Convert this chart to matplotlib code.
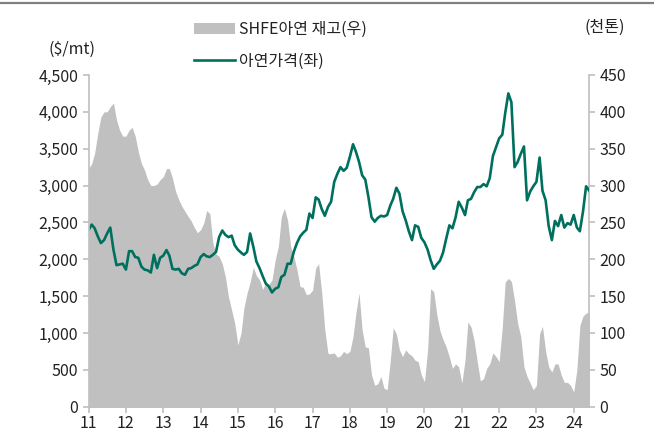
import numpy as np
import pandas as pd
import matplotlib
matplotlib.use("Agg")
import matplotlib.pyplot as plt
import matplotlib.dates as mdates
from matplotlib.ticker import FuncFormatter

plt.rcParams['font.family'] = ['Noto Sans CJK KR', 'DejaVu Sans']

# monthly, Jan 2011 -> Jun 2024
dates = pd.date_range("2011-01-01", periods=162, freq="MS")

# zinc price ($/mt, left axis)
price = [
    2400, 2470, 2420, 2310, 2220, 2260, 2350, 2430, 2130, 1920, 1930, 1940,
    1860, 2110, 2110, 2030, 2020, 1900, 1860, 1850, 1820, 2060, 1880, 2020,
    2050, 2125, 2050, 1870, 1860, 1870, 1810, 1790, 1870, 1880, 1910, 1930,
    2030, 2070, 2040, 2030, 2060, 2100, 2300, 2390, 2330, 2300, 2320, 2190,
    2130, 2090, 2060, 2100, 2350, 2170, 1970, 1880, 1770, 1670, 1630, 1550,
    1600, 1620, 1760, 1790, 1940, 1940, 2100, 2220, 2310, 2360, 2400, 2620,
    2560, 2840, 2810, 2680, 2590, 2710, 2780, 3050, 3160, 3250, 3200, 3240,
    3390, 3560, 3460, 3320, 3140, 3080, 2850, 2570, 2510, 2560, 2590, 2580,
    2600, 2730, 2820, 2970, 2890, 2650, 2530, 2380, 2260, 2460, 2440, 2290,
    2230, 2130, 1990, 1870, 1930, 1980, 2090, 2280, 2460, 2420, 2570, 2780,
    2700, 2600, 2800, 2820, 2910, 2980, 2980, 3020, 2990, 3100, 3400, 3520,
    3640, 3690, 3980, 4250, 4130, 3250, 3320, 3430, 3530, 2800, 2920, 2990,
    3050, 3380, 2930, 2800, 2450, 2260, 2520, 2450, 2600, 2430, 2490, 2470,
    2600, 2430, 2380, 2650, 2990, 2930,
]

# SHFE zinc inventory (thousand tonnes, right axis)
stock = [
    323, 330, 344, 371, 393, 400, 400, 407, 412, 389, 375, 367,
    367, 375, 379, 367, 346, 330, 321, 308, 300, 300, 302, 308,
    312, 323, 323, 310, 292, 281, 272, 265, 258, 252, 243, 236,
    240, 249, 266, 262, 222, 207, 204, 194, 176, 149, 131, 113,
    84, 100, 134, 154, 169, 189, 178, 172, 159, 169, 166, 172,
    199, 217, 258, 269, 253, 217, 204, 186, 163, 162, 152, 153,
    158, 188, 194, 154, 104, 72, 72, 73, 67, 69, 75, 72,
    75, 95, 127, 154, 104, 81, 80, 43, 29, 31, 41, 25,
    23, 63, 107, 99, 77, 68, 77, 72, 69, 63, 61, 43,
    34, 77, 160, 156, 125, 103, 91, 81, 67, 52, 58, 54,
    32, 63, 115, 108, 90, 61, 35, 38, 52, 58, 73, 68,
    61, 108, 169, 174, 170, 144, 113, 95, 54, 41, 32, 23,
    29, 99, 109, 75, 54, 47, 58, 58, 43, 33, 33, 29,
    20, 50, 110, 123, 127, 128,
]

price_label = "아연가격(좌)"
stock_label = "SHFE아연 재고(우)"

grey = "#BFBFBF"
teal = "#00705E"
txt = "#222222"

fig = plt.figure(figsize=(6.54, 4.38), dpi=100)
ax = fig.add_axes([0.1355, 0.0715, 0.7655, 0.7573])
ax2 = ax.twinx()

ax2.fill_between(dates, stock, 0, color="#C0C0C0", lw=0, label=stock_label)
ax.plot(dates, price, color=teal, lw=1.9, label=price_label)

ax.set_zorder(ax2.get_zorder() + 1)
ax.patch.set_visible(False)

ax.set_ylim(0, 4500)
ax.set_yticks(np.arange(0, 4501, 500))
ax.yaxis.set_major_formatter(FuncFormatter(lambda v, p: f"{int(v):,}"))
ax2.set_ylim(0, 450)
ax2.set_yticks(np.arange(0, 451, 50))

ax.set_xlim(dates[0], dates[-1])
ax.xaxis.set_major_locator(mdates.YearLocator())
ax.xaxis.set_major_formatter(mdates.DateFormatter("%y"))

for a in (ax, ax2):
    for s in a.spines.values():
        s.set_color(grey)
        s.set_linewidth(1.2)
    a.spines["top"].set_visible(False)
    a.tick_params(colors=grey, labelcolor=txt, labelsize=11.5, length=4, width=1.2)
ax.spines["right"].set_visible(False)
ax2.spines["left"].set_visible(False)
ax.tick_params(axis="x", pad=2)

fig.text(0.11, 0.888, "($/mt)", ha="center", va="center", fontsize=11.5, color=txt)
fig.text(0.925, 0.938, "(천톤)", ha="center", va="center", fontsize=11.5, color=txt)

h1, l1 = ax2.get_legend_handles_labels()
h2, l2 = ax.get_legend_handles_labels()
fig.legend(h1 + h2, l1 + l2, loc="upper left", bbox_to_anchor=(0.284, 0.971),
           frameon=False, fontsize=11.5, handlelength=2.6, handletextpad=0.25,
           labelspacing=0.95, borderpad=0, labelcolor=txt)

# thin rule across the top
fig.add_artist(plt.Line2D([0, 1], [0.994, 0.994], color="#808080", lw=1.6))

fig.savefig("out.png", dpi=100)
